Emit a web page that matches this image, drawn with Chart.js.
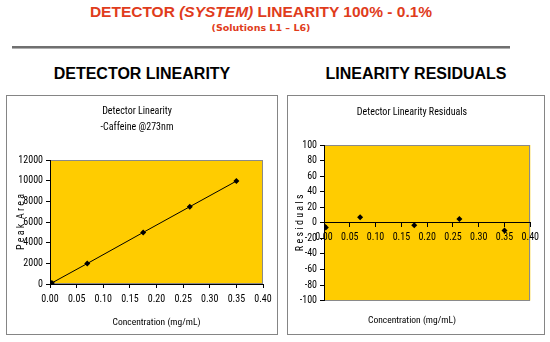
<!DOCTYPE html>
<html>
<head>
<meta charset="utf-8">
<script src="https://cdn.jsdelivr.net/npm/chart.js@4/dist/chart.umd.min.js"></script>
<style>
  html, body { margin: 0; padding: 0; background: #fff; }
  body { width: 550px; height: 342px; position: relative; overflow: hidden;
         font-family: "Liberation Sans", Arial, sans-serif; }
  .abs { position: absolute; white-space: nowrap; }
  #mainTitle { left: 0; width: 522px; top: 3px; text-align: center; color: #e03c1c;
               font-weight: bold; font-size: 15.5px; }
  #subTitle { left: 0; width: 522px; top: 22px; text-align: center; color: #e03c1c;
              font-family: "DejaVu Sans", sans-serif; font-weight: bold; font-size: 9.5px; }
  #rule { left: 12px; top: 46px; width: 498px; height: 0;
          border-top: 2px solid #707070; border-bottom: 1px solid #b0b0b0; }
  .heading { top: 65px; font-weight: bold; font-size: 16px; color: #000; text-align: center; }
  .box { position: absolute; border: 1px solid #858585; background: #fff; }
  canvas { display: block; }
</style>
</head>
<body>
<div id="mainTitle" class="abs">DETECTOR <i>(SYSTEM)</i> LINEARITY 100% - 0.1%</div>
<div id="subTitle" class="abs">(Solutions L1 &ndash; L6)</div>
<div id="rule" class="abs"></div>
<div class="abs heading" style="left:7px;width:270px;">DETECTOR LINEARITY</div>
<div class="abs heading" style="left:288px;width:256px;">LINEARITY RESIDUALS</div>

<div class="box" style="left:6px;top:95px;width:270px;height:238px;">
  <canvas id="linChart" width="270" height="238"></canvas>
</div>
<div class="box" style="left:287px;top:95px;width:256px;height:238px;">
  <canvas id="resChart" width="256" height="238"></canvas>
</div>

<script>
// Concentrations of solutions L1-L6 (mg/mL)
const concentrations = [0.00035, 0.0035, 0.07, 0.175, 0.2625, 0.35];
// Measured peak areas for each solution
const peakAreas = [10, 100, 1980, 4990, 7480, 9960];
// Residuals of the linear fit at each concentration
const residuals = [-4, -6, 7, -3, 5, -10];
// Axis tick settings
const concTicks = { min: 0, max: 0.4, step: 0.05 };
const areaTicks = { min: 0, max: 12000, step: 2000 };
const residualTicks = { min: -100, max: 100, step: 20 };

const FONT = '"Roboto Condensed", "Liberation Sans", Arial, sans-serif';
const GOLD = '#ffcc00';

// Fills the plot area and outlines it before axes and points are drawn
const plotFrame = {
  id: 'plotFrame',
  beforeDraw(chart) {
    const { ctx, chartArea: a } = chart;
    ctx.save();
    ctx.fillStyle = GOLD;
    ctx.fillRect(a.left, a.top, a.width, a.height);
    ctx.strokeStyle = '#8a8a8a';
    ctx.lineWidth = 1;
    ctx.strokeRect(Math.round(a.left) + 0.5, Math.round(a.top) + 0.5,
                   Math.round(a.width) - 1, Math.round(a.height) - 1);
    ctx.restore();
  }
};

const points = (xs, ys) => xs.map((x, i) => ({ x, y: ys[i] }));
const tickFont = { family: FONT, size: 10 };
const axisGrid = { display: true, drawOnChartArea: false, drawTicks: true,
                   tickLength: 4, color: '#000' };

new Chart(document.getElementById('linChart'), {
  type: 'scatter',
  data: {
    datasets: [{
      data: points(concentrations, peakAreas),
      showLine: true,
      borderColor: '#000',
      borderWidth: 1,
      backgroundColor: '#000',
      pointStyle: 'rectRot',
      pointRadius: 3,
      pointBorderWidth: 0
    }]
  },
  options: {
    responsive: false,
    animation: false,
    events: [],
    layout: { padding: { left: 4, right: 14, top: 0, bottom: 6 } },
    plugins: {
      legend: { display: false },
      tooltip: { enabled: false },
      title: {
        display: true,
        text: ['Detector Linearity', '-Caffeine @273nm'],
        color: '#000',
        font: { family: FONT, size: 10, weight: 'normal', lineHeight: 1.6 },
        padding: { top: 7, bottom: 25 }
      }
    },
    scales: {
      x: {
        type: 'linear',
        min: concTicks.min, max: concTicks.max,
        grid: axisGrid,
        border: { color: '#000' },
        ticks: { stepSize: concTicks.step, color: '#000', font: tickFont, padding: 5,
                 maxRotation: 0, autoSkip: false,
                 callback: v => v.toFixed(2) },
        title: { display: true, text: 'Concentration (mg/mL)', color: '#000',
                 font: { family: FONT, size: 9.5 }, padding: { top: 4, bottom: 0 } },
        afterFit: s => { s.height = 44; }
      },
      y: {
        type: 'linear',
        min: areaTicks.min, max: areaTicks.max,
        grid: axisGrid,
        border: { color: '#000' },
        ticks: { stepSize: areaTicks.step, color: '#000', font: tickFont, padding: 3,
                 callback: v => String(v) },
        title: { display: true, text: 'P e a k  A r e a', color: '#000',
                 font: { family: FONT, size: 10 }, padding: { top: 4, bottom: 0 } },
        afterFit: s => { s.width = 39; }
      }
    }
  },
  plugins: [plotFrame]
});

new Chart(document.getElementById('resChart'), {
  type: 'scatter',
  data: {
    datasets: [{
      data: points(concentrations, residuals),
      showLine: false,
      backgroundColor: '#000',
      pointStyle: 'rectRot',
      pointRadius: 3,
      pointBorderWidth: 0
    }]
  },
  options: {
    responsive: false,
    animation: false,
    events: [],
    layout: { padding: { left: 4, right: 12, top: 0, bottom: 0 } },
    plugins: {
      legend: { display: false },
      tooltip: { enabled: false },
      title: {
        display: true,
        text: 'Detector Linearity Residuals',
        color: '#000',
        font: { family: FONT, size: 10, weight: 'normal', lineHeight: 1.2 },
        padding: { top: 10, bottom: 27 }
      },
      subtitle: {
        display: true,
        position: 'bottom',
        text: 'Concentration (mg/mL)',
        color: '#000',
        font: { family: FONT, size: 9.5, lineHeight: 1.2 },
        padding: { top: 14, bottom: 8 }
      }
    },
    scales: {
      x: {
        type: 'linear',
        position: { y: 0 },
        min: concTicks.min, max: concTicks.max,
        grid: axisGrid,
        border: { color: '#000' },
        ticks: { stepSize: concTicks.step, color: '#000', font: tickFont, padding: 5,
                 maxRotation: 0, autoSkip: false,
                 callback: v => v.toFixed(2) }
      },
      y: {
        type: 'linear',
        min: residualTicks.min, max: residualTicks.max,
        grid: axisGrid,
        border: { color: '#000' },
        ticks: { stepSize: residualTicks.step, color: '#000', font: tickFont, padding: 3 },
        title: { display: true, text: 'R e s i d u a l s', color: '#000',
                 font: { family: FONT, size: 10 }, padding: { top: 2, bottom: 0 } },
        afterFit: s => { s.width = 32; }
      }
    }
  },
  plugins: [plotFrame]
});
</script>
</body>
</html>
